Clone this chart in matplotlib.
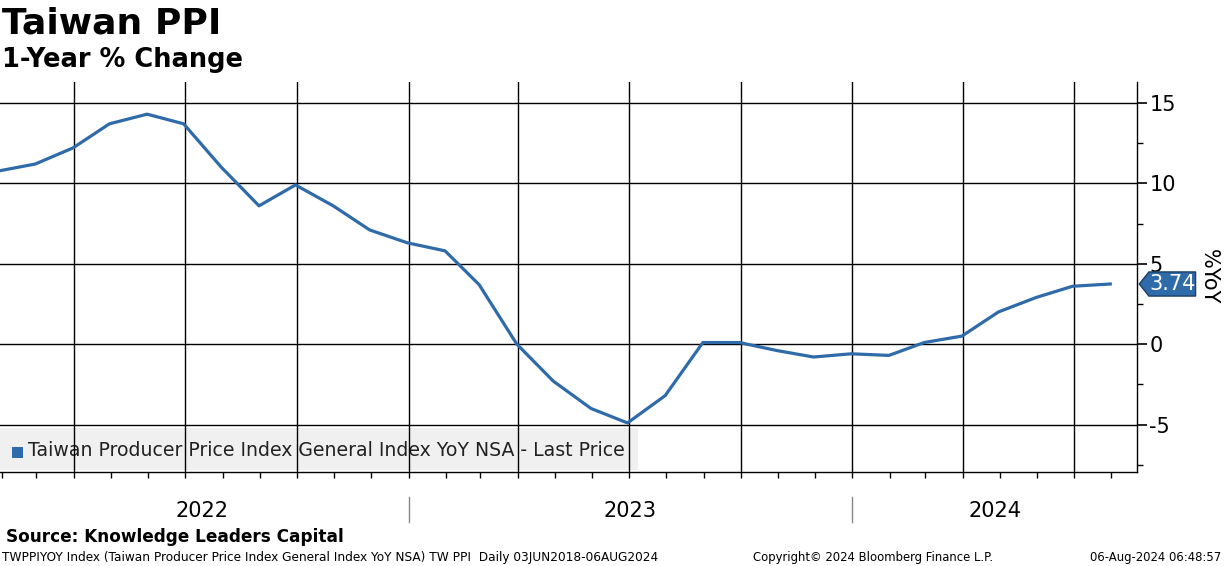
import numpy as np
import pandas as pd
import matplotlib
matplotlib.use("Agg")
import matplotlib.pyplot as plt
import matplotlib.dates as mdates
from matplotlib.patches import Rectangle, Polygon

# данные: месячные значения, Jan 2022 - Jul 2024 (на конец месяца)
months = pd.date_range("2022-01-31", "2024-07-31", freq="ME")
ppi_yoy = [10.8, 11.2, 12.2, 13.7, 14.3, 13.7, 11.0, 8.6, 9.9, 8.6, 7.1, 6.3,
           5.8, 3.7, 0.0, -2.3, -4.0, -4.9, -3.2, 0.1, 0.1, -0.4, -0.8, -0.6,
           -0.7, 0.1, 0.5, 2.0, 2.9, 3.6, 3.74]
y_ticks = [15, 10, 5, 0, -5]
year_labels = ["2022", "2023", "2024"]
legend_text = "Taiwan Producer Price Index General Index YoY NSA - Last Price"

blue = "#2f6aa9"
plt.rcParams['font.family'] = ['DejaVu Sans']
plt.rcParams['axes.unicode_minus'] = False

fig = plt.figure(figsize=(12.24, 5.66), dpi=100)
ax = fig.add_axes([0.0, 1 - 472 / 566, 1137 / 1224, (472 - 82) / 566])

x0 = pd.Timestamp("2022-01-30")
x1 = pd.Timestamp("2024-08-22")
ax.set_xlim(x0, x1)
ax.set_ylim(-7.95, 16.3)

# легенда (фон под сеткой)
ax.add_patch(Rectangle((0, 0.005), 638 / 1137, 42 / 390, transform=ax.transAxes,
                       facecolor="#f0f0f0", edgecolor="none", zorder=0.5))
ax.add_patch(Rectangle((12 / 1137, 14 / 390), 11 / 1137, 11 / 390, transform=ax.transAxes,
                       facecolor=blue, edgecolor="none", zorder=1))
ax.text(28 / 1137, 22 / 390, legend_text, transform=ax.transAxes,
        fontsize=13.6, va="center", ha="left", color="#222222", zorder=1)

# сетка
for v in y_ticks:
    ax.axhline(v, color="black", lw=1.0, zorder=2)
for q in pd.date_range("2022-04-01", "2024-07-01", freq="QS"):
    ax.axvline(q, color="black", lw=1.0, zorder=2)

ax.plot(months, ppi_yoy, color=blue, lw=2.3, zorder=4)

# оси
for s in ["top", "left"]:
    ax.spines[s].set_visible(False)
ax.spines["right"].set_linewidth(1.0)
ax.spines["bottom"].set_linewidth(1.0)
ax.yaxis.tick_right()
ax.set_yticks(y_ticks)
ax.set_yticks(np.arange(-7.5, 16, 2.5), minor=True)
ax.tick_params(axis="y", which="major", length=7, width=1.2, labelsize=15, pad=2)
ax.tick_params(axis="y", which="minor", length=4, width=1)
ax.xaxis.set_major_locator(mdates.MonthLocator())
ax.xaxis.set_major_formatter(plt.NullFormatter())
ax.tick_params(axis="x", which="major", length=4, width=1)

# подписи лет
trans = ax.get_xaxis_transform()
year_pos = [pd.Timestamp("2022-07-15"), pd.Timestamp("2023-07-02"), pd.Timestamp("2024-04-27")]
for d, lab in zip(year_pos, year_labels):
    ax.text(d, -39 / 390, lab, transform=trans, ha="center", va="center", fontsize=15)
for d in [pd.Timestamp("2023-01-01"), pd.Timestamp("2024-01-01")]:
    ax.plot([d, d], [-25 / 390, -50 / 390], transform=trans, color="#888888",
            lw=1, clip_on=False)

# метка последнего значения
last = ppi_yoy[-1]
yt = ax.get_yaxis_transform()
h = 0.75
pts = [(1.002, last), (1.0105, last + h), (1.0515, last + h),
       (1.0515, last - h), (1.0105, last - h)]
ax.add_patch(Polygon(pts, closed=True, transform=yt, facecolor=blue,
                     edgecolor="#1b3f66", lw=1, clip_on=False, zorder=6))
ax.text(1.031, last, f"{last:.2f}", transform=yt, color="white", fontsize=15,
        ha="center", va="center", zorder=7)
ax.text(1.0635, last + 0.45, "%YoY", transform=yt, rotation=-90, fontsize=15,
        ha="center", va="center")

# заголовки
fig.text(0.002, 1 - 24 / 566, "Taiwan PPI", fontsize=26, fontweight="bold", va="center")
fig.text(0.002, 1 - 60 / 566, "1-Year % Change", fontsize=18.5, fontweight="bold", va="center")
fig.text(0.005, 1 - 537 / 566, "Source: Knowledge Leaders Capital", fontsize=12.2,
         fontweight="bold", va="center")
fig.text(0.002, 1 - 557 / 566,
         "TWPPIYOY Index (Taiwan Producer Price Index General Index YoY NSA) TW PPI  Daily 03JUN2018-06AUG2024",
         fontsize=8.7, va="center")
fig.text(753 / 1224, 1 - 557 / 566, "Copyright\u00a9 2024 Bloomberg Finance L.P.",
         fontsize=8.4, va="center")
fig.text(0.998, 1 - 557 / 566, "06-Aug-2024 06:48:57", fontsize=8.4, va="center", ha="right")

fig.savefig("out.png", dpi=100)
